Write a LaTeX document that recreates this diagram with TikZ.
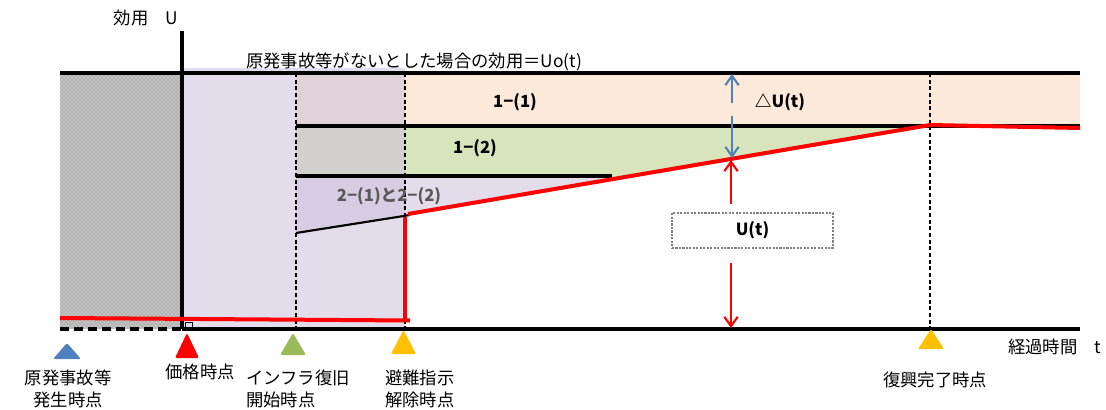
\documentclass[tikz,border=0pt]{standalone}
\usepackage{fontspec}
\setmainfont{Noto Sans CJK JP}
\usetikzlibrary{patterns,arrows.meta}
\definecolor{peach}{HTML}{FCE9DA}
\definecolor{lgreen}{HTML}{D8E4BC}
\definecolor{lav}{HTML}{CCC0DA}
\definecolor{blueA}{HTML}{4F81BD}
\definecolor{greenT}{HTML}{9BBB59}
\definecolor{yellowT}{HTML}{FFC000}
\definecolor{redA}{HTML}{FF0000}
\definecolor{darkgray}{HTML}{595959}
\tikzset{
  lbl/.style={font=\fontsize{13}{16}\selectfont, inner sep=0pt, align=left},
  blbl/.style={font=\fontsize{12.5}{15}\selectfont\bfseries, inner sep=0pt},
  thick line/.style={line width=2.8pt, black},
  vdash/.style={densely dashed, line width=0.8pt, black},
  redline/.style={line width=3pt, redA},
  blarrow/.style={line width=1.6pt, blueA, -{Straight Barb[length=7pt,width=10pt,line width=1.6pt]}},
  rdarrow/.style={line width=1.6pt, redA, -{Straight Barb[length=7pt,width=10pt,line width=1.6pt]}},
  marker/.style={rounded corners=1.5pt},
}
\begin{document}
\begin{tikzpicture}[x=0.75pt,y=-0.75pt]
\useasboundingbox (0,0) rectangle (1106,410);

% hatched region
\fill[gray!60] (60,73) rectangle (182,329);
\fill[pattern=crosshatch dots, pattern color=white] (60,73) rectangle (182,329);

% peach band
\fill[peach] (296,73) rectangle (1080,126);
% green region
\fill[lgreen] (296,126) -- (930,125) -- (612,179) -- (612,176) -- (296,176) -- cycle;
% 2-(1) and 2-(2) region
\fill[lav, opacity=0.55] (296,176) -- (612,176) -- (612,179) -- (408,214) -- (405,216) -- (296,233) -- cycle;
% lavender box
\fill[lav, opacity=0.55] (182,68) rectangle (405,329);

% main lines
\coordinate (u0l) at (60,73);
\coordinate (u0r) at (1080,73);
\draw[thick line] (u0l) -- (u0r);
\coordinate (m1l) at (296,126);
\coordinate (m1r) at (1080,126);
\draw[thick line] (m1l) -- (m1r);
\coordinate (m2l) at (296,176);
\coordinate (m2r) at (612,176);
\draw[thick line] (m2l) -- (m2r);
\coordinate (s1) at (296,233);
\coordinate (s2) at (410,215);
\draw[line width=1.6pt, black] (s1) -- (s2);

% axes
\coordinate (ytop) at (182,31);
\coordinate (origin) at (182,329);
\coordinate (xend) at (1080,329);
\coordinate (xstart) at (60,329);
\draw[thick line] (ytop) -- (origin);
\draw[thick line] (origin) -- (xend);
\draw[line width=2.8pt, dash pattern=on 7pt off 3.5pt] (xstart) -- (origin);
\draw[line width=0.7pt] (185,322) rectangle (192,328);

% dashed verticals
\coordinate (d1t) at (296,73);  \coordinate (d1b) at (296,329);
\coordinate (d2t) at (405,73);  \coordinate (d2b) at (405,329);
\coordinate (d3t) at (930,73);  \coordinate (d3b) at (930,329);
\draw[vdash] (d1t) -- (d1b);
\draw[vdash] (d2t) -- (d2b);
\draw[vdash] (d3t) -- (d3b);

% red utility line
\coordinate (r0) at (60,318);
\coordinate (r1) at (410,320.5);
\coordinate (r2) at (405,320.5);
\coordinate (r3) at (405,217);
\coordinate (r4) at (408,214);
\coordinate (r5) at (930,125);
\coordinate (r6) at (1080,128);
\draw[redline] (r0) -- (r1);
\draw[redline] (r2) -- (r3);
\draw[redline] (r4) -- (r5) -- (r6);

% arrows
\coordinate (ba1) at (732,103);
\coordinate (ba2) at (732,74);
\coordinate (ba3) at (732,116);
\coordinate (ba4) at (732,158);
\draw[blarrow] (ba1) -- (ba2);
\draw[blarrow] (ba3) -- (ba4);
\coordinate (ra1) at (731,204);
\coordinate (ra2) at (731,160);
\coordinate (ra3) at (731,263);
\coordinate (ra4) at (731,328);
\draw[rdarrow] (ra1) -- (ra2);
\draw[rdarrow] (ra3) -- (ra4);

% U(t) box
\node[draw=gray, densely dotted, line width=1.6pt, fill=white, minimum width=161*0.75pt, minimum height=35*0.75pt, blbl, inner sep=0pt] (utbox) at (752.5,230.5) {U(t)};

% texts
\node[lbl] (ylabel) at (146,18) {効用　U};
\node[lbl, anchor=west] (u0text) at (246,62) {原発事故等がないとした場合の効用＝Uo(t)};
\node[blbl] (l11) at (515,102) {1−(1)};
\node[blbl] (l12) at (475,148) {1−(2)};
\node[blbl, text=darkgray] (l2) at (389,196) {2−(1)と2−(2)};
\node[blbl] (dU) at (780,102) {△U(t)};
\node[lbl, anchor=west] (tlabel) at (1008,347) {経過時間　t};

% markers
\fill[blueA, marker] (53,359) -- (67,343) -- (81,359) -- cycle;
\fill[redA, marker] (175,358) -- (187,333) -- (199,358) -- cycle;
\fill[greenT, marker] (280,355) -- (293,333) -- (306,355) -- cycle;
\fill[yellowT, marker] (391,354) -- (403.5,330) -- (416,354) -- cycle;
\fill[yellowT, marker] (918,349) -- (931,329) -- (944,349) -- cycle;

% marker labels
\node[lbl, align=center] (m1) at (68,389) {原発事故等\\発生時点};
\node[lbl] (m2) at (200,372) {価格時点};
\node[lbl, anchor=west] (m3) at (246,389) {インフラ復旧\\開始時点};
\node[lbl, anchor=west] (m4) at (385,389) {避難指示\\解除時点};
\node[lbl] (m5) at (935,380) {復興完了時点};
\end{tikzpicture}
\end{document}
